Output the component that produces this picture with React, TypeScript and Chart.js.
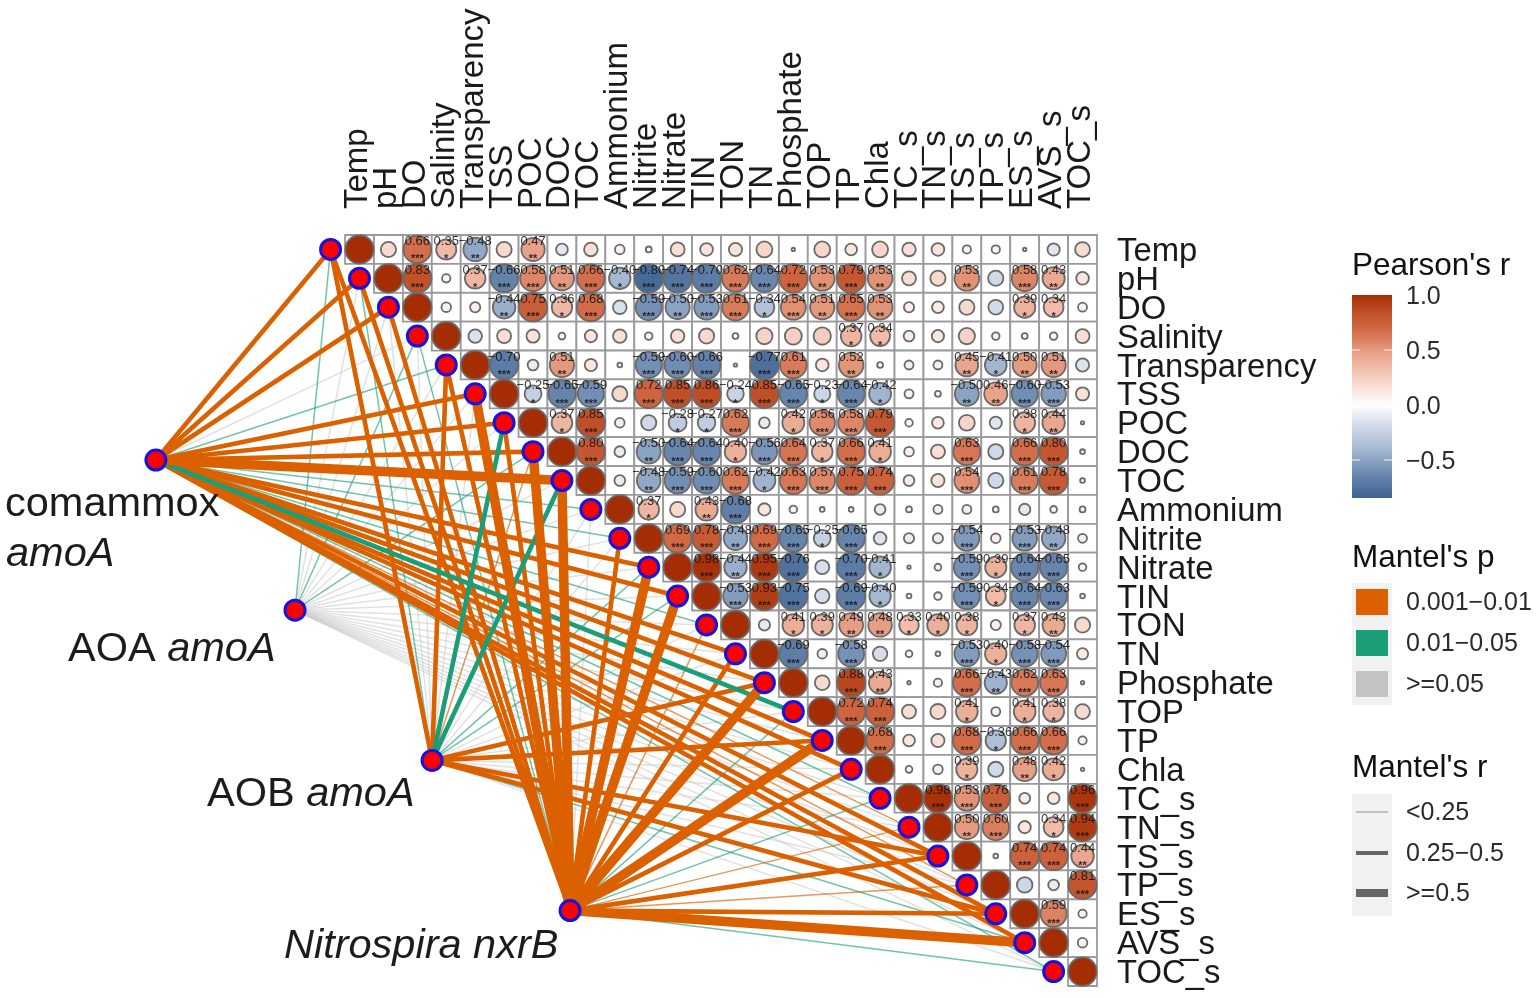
import React, { useEffect, useRef } from "react";
import { Chart, registerables } from "chart.js";
Chart.register(...registerables);

const variables = ["Temp","pH","DO","Salinity","Transparency","TSS","POC","DOC","TOC","Ammonium","Nitrite","Nitrate","TIN","TON","TN","Phosphate","TOP","TP","Chla","TC_s","TN_s","TS_s","TP_s","ES_s","AVS_s","TOC_s"];

// Each row starts at its own diagonal cell; * marks significance stars.
const rowTemp = ["1","0.2","0.66***","0.35*","-0.48**","0.2","0.47**","-0.12","0.16","0.08","0.03","0.17","0.14","0.15","0.22","0.01","0.22","0.12","0.22","0.16","0.14","0.06","0.06","0.01","-0.13","0.19"];
const rowPH = ["1","0.83***","0.06","0.37*","-0.66***","0.58***","0.51**","0.66***","-0.40*","-0.80***","-0.74***","-0.70***","0.62***","-0.64***","0.72***","0.53**","0.79***","0.53**","0.17","0.2","0.53**","-0.2","0.58***","0.43**","0.14"];
const rowDO = ["1","0.08","0.09","-0.44**","0.75***","0.36*","0.68***","-0.16","-0.59***","-0.50**","-0.53***","0.61***","-0.34*","0.54***","0.51**","0.65***","0.53**","0.09","0.12","0.2","-0.19","0.39*","0.34*","0.07"];
const rowSalinity = ["1","-0.16","0.17","0.15","0.04","0.13","0.16","-0.05","0.16","0.2","0.03","0.23","0.25","0.26","0.37*","0.34*","0.1","0.13","0.23","0.05","0.03","0.05","0.17"];
const rowTransparency = ["1","-0.70***","-0.1","0.51**","0.13","0.02","-0.59***","-0.60***","-0.66***","0.01","-0.77***","0.61***","0.14","0.52**","0.03","-0.07","-0.07","0.45**","-0.41*","0.50**","0.51**","-0.15"];
const rowTSS = ["1","-0.25*","-0.65***","-0.59***","0.2","0.72***","0.85***","0.86***","-0.24*","0.85***","-0.65***","-0.23*","-0.64***","-0.42*","0.07","0.03","-0.50**","0.46**","-0.60***","-0.53***","0.15"];
const rowPOC = ["1","0.37*","0.85***","-0.08","-0.2","-0.28*","-0.27*","0.62***","-0.1","0.42*","0.56***","0.58***","0.79***","0.05","0.12","0.22","-0.13","0.38*","0.44**","0.01"];
const rowDOC = ["1","0.80***","-0.1","-0.50**","-0.64***","-0.64***","0.40*","-0.56***","0.64***","0.37*","0.66***","0.41*","0.08","0.17","0.63***","-0.2","0.66***","0.80***","0.02"];
const rowTOC = ["1","-0.1","-0.48**","-0.59***","-0.60***","0.62***","-0.42*","0.63***","0.57***","0.75***","0.74***","0.1","0.15","0.54***","-0.2","0.61***","0.78***","0.02"];
const rowAmmonium = ["1","0.37*","0.2","0.43**","-0.68***","0.13","-0.05","-0.02","0.02","-0.1","-0.03","-0.07","-0.07","-0.03","-0.11","-0.04","-0.03"];
const rowNitrite = ["1","0.69***","0.78***","-0.48**","0.69***","-0.65***","-0.25*","-0.65***","-0.14","-0.09","-0.09","-0.54***","0.08","-0.53***","-0.48**","-0.07"];
const rowNitrate = ["1","0.98***","-0.44**","0.95***","-0.76***","-0.17","-0.70***","-0.41*","0.01","-0.04","-0.59***","0.39*","-0.64***","-0.65***","-0.05"];
const rowTIN = ["1","-0.53***","0.93***","-0.75***","-0.18","-0.69***","-0.40*","0.02","-0.05","-0.59***","0.34*","-0.64***","-0.63***","-0.02"];
const rowTON = ["1","-0.11","0.41*","0.39*","0.49**","0.48**","0.33*","0.40*","0.38*","0.09","0.37*","0.43**","0.2"];
const rowTN = ["1","-0.69***","-0.08","-0.58***","-0.18","0.04","0.02","-0.53***","0.40*","-0.58***","-0.54***","0.11"];
const rowPhosphate = ["1","0.19","0.88***","0.43**","0.01","0.06","0.66***","-0.43**","0.62***","0.63***","0.01"];
const rowTOP = ["1","0.72***","0.74***","0.17","0.2","0.41*","-0.07","0.41*","0.38*","0.19"];
const rowTP = ["1","0.68***","0.12","0.15","0.68***","-0.36*","0.66***","0.66***","0.06"];
const rowChla = ["1","0.04","0.08","0.39*","-0.2","0.48**","0.42*","0.01"];
const rowTCs = ["1","0.98***","0.53***","0.76***","0.1","0.12","0.96***"];
const rowTNs = ["1","0.50**","0.60***","0.13","0.34*","0.94***"];
const rowTSs = ["1","0.02","0.74***","0.74***","0.44**"];
const rowTPs = ["1","-0.21","-0.10","0.81***"];
const rowESs = ["1","0.59***","0.06"];
const rowAVSs = ["1","0.08"];
const rowTOCs = ["1"];
const corrRows = [rowTemp,rowPH,rowDO,rowSalinity,rowTransparency,rowTSS,rowPOC,rowDOC,rowTOC,rowAmmonium,rowNitrite,rowNitrate,rowTIN,rowTON,rowTN,rowPhosphate,rowTOP,rowTP,rowChla,rowTCs,rowTNs,rowTSs,rowTPs,rowESs,rowAVSs,rowTOCs];

// Mantel links, one per variable: o = 0.001-0.01, g = 0.01-0.05, n = >=0.05; 0/1/2 = r class
const comammoxLinks = ["o1","o1","o1","n0","g0","o1","o1","o1","o2","g0","g0","o1","o1","g0","o1","o1","g1","o1","o1","g0","o0","o1","o0","o1","o1","g0"];
const aoaLinks = ["g0","n0","n0","g0","n0","n0","n0","g0","n0","n0","n0","n0","n0","n0","n0","n0","n0","n0","n0","n0","n0","n0","n0","n0","n0","n0"];
const aobLinks = ["o1","g0","n0","n0","o1","n0","g1","o0","g1","n0","n0","g0","g0","n0","n0","o1","n0","o1","n0","n0","n0","o1","n0","o1","g0","n0"];
const nitrospiraLinks = ["o1","o1","o1","g0","o1","o2","o1","o2","o2","n0","o1","o2","o2","o0","o1","o2","g0","o2","o1","g0","o0","o1","o0","o1","o2","g0"];

const geneNames = ["comammox","AOA","AOB","Nitrospira"];
const geneX = [-7.04,-2.23,2.51,7.28];
const geneY = [7.29,12.49,17.69,22.89];
const geneLinks = [comammoxLinks,aoaLinks,aobLinks,nitrospiraLinks];

const colorTicks = [1,0.5,0,-0.5];
const colorTickLabels = ["1.0","0.5","0.0","\u22120.5"];
const pLabels = ["0.001\u22120.01","0.01\u22120.05",">=0.05"];
const rLabels = ["<0.25","0.25\u22120.5",">=0.5"];

const posStops: [number,number[]][] = [[0,[255,255,255]],[0.25,[246,207,192]],[0.5,[229,155,128]],[0.66,[212,110,74]],[0.85,[192,78,38]],[1,[165,45,3]]];
const negStops: [number,number[]][] = [[0,[255,255,255]],[0.2,[208,217,231]],[0.4,[165,184,210]],[0.6,[112,141,179]],[0.8,[70,106,152]],[1,[42,74,117]]];
function pearsonColor(v: number) {
  const stops = v >= 0 ? posStops : negStops;
  const a = Math.abs(v);
  for (let i = 1; i < stops.length; i++) {
    if (a <= stops[i][0]) {
      const [t0,c0] = stops[i-1]; const [t1,c1] = stops[i];
      const t = (a-t0)/(t1-t0);
      return `rgb(${c0.map((c,k)=>Math.round(c+(c1[k]-c)*t)).join(",")})`;
    }
  }
  return "rgb(165,45,3)";
}

const FONT = '"Liberation Sans", Arial, sans-serif';
const lineColor: Record<string,string> = { o0:"rgba(218,96,0,0.65)", o1:"#DA6000", o2:"#DA6000", g0:"rgba(27,158,119,0.62)", g1:"#1B9E77", n0:"rgba(205,205,205,0.6)" };
const lineWidth = [1.5,4.6,9.5];
const lineOrder: Record<string,number> = { n0:9, g0:8, o0:7, o1:6, g1:5, o2:4 };

const overlay = {
  id: "overlay",
  afterDatasetsDraw(chart: any) {
    const { ctx, scales: { x, y } } = chart;
    ctx.save();
    ctx.textAlign = "center"; ctx.textBaseline = "middle";
    corrRows.forEach((row, i) => row.forEach((s, k) => {
      const stars = (s.match(/\*/g) || []).length;
      if (!stars) return;
      const v = parseFloat(s);
      const px = x.getPixelForValue(i+k), py = y.getPixelForValue(i);
      ctx.fillStyle = "rgba(15,15,15,0.85)";
      ctx.font = `13px ${FONT}`;
      ctx.fillText(v.toFixed(2).replace("-", "\u2212"), px, py - 8);
      ctx.font = `bold 11px ${FONT}`;
      ctx.fillStyle = "rgba(25,25,25,0.9)";
      ctx.fillText("*".repeat(stars), px, py + 10);
    }));
    ctx.fillStyle = "#1c1c1c"; ctx.textAlign = "left"; ctx.textBaseline = "alphabetic";
    const n = `41.5px ${FONT}`, it = `italic 41.5px ${FONT}`;
    ctx.font = n; ctx.fillText(geneNames[0], 5, 516);
    ctx.font = it; ctx.fillText("amoA", 6, 566);
    ctx.font = n; ctx.fillText("AOA ", 68, 661);
    let w = ctx.measureText("AOA ").width;
    ctx.font = it; ctx.fillText("amoA", 68+w, 661);
    ctx.font = n; ctx.fillText("AOB ", 207, 806);
    w = ctx.measureText("AOB ").width;
    ctx.font = it; ctx.fillText("amoA", 207+w, 806);
    ctx.font = it; ctx.fillText("Nitrospira nxrB", 284, 958);

    const lx = 1352, tx = 1406;
    ctx.fillStyle = "#111"; ctx.font = `31.5px ${FONT}`; ctx.textBaseline = "middle";
    ctx.fillText("Pearson's r", lx, 266);
    ctx.fillText("Mantel's p", lx, 558);
    ctx.fillText("Mantel's r", lx, 768);
    const valToY = (v: number) => 405 - v*110;
    const top = 295, bot = 498;
    const g = ctx.createLinearGradient(0, top, 0, bot);
    for (let k = 0; k <= 40; k++) {
      const f = k/40; const v = 1 - f*(bot-top)/110;
      g.addColorStop(f, pearsonColor(Math.max(v,-1)));
    }
    ctx.fillStyle = g; ctx.fillRect(lx, top, 40, bot-top);
    ctx.strokeStyle = "rgba(255,255,255,0.9)"; ctx.lineWidth = 1.2;
    ctx.font = `25px ${FONT}`;
    colorTicks.forEach((v,i) => {
      const py = valToY(v);
      if (v < 1) {
        ctx.beginPath(); ctx.moveTo(lx, py); ctx.lineTo(lx+8, py); ctx.moveTo(lx+32, py); ctx.lineTo(lx+40, py); ctx.stroke();
      }
      ctx.fillStyle = "#2b2b2b"; ctx.fillText(colorTickLabels[i], tx, py+2);
    });
    ctx.fillStyle = "#F2F2F2"; ctx.fillRect(lx, 583, 40, 122);
    const pColors = ["#DD6000","#1B9E77","#C4C4C4"]; const pY = [602,643,684];
    pLabels.forEach((s,i) => {
      ctx.fillStyle = pColors[i]; ctx.fillRect(lx+4, pY[i]-13, 32, 26);
      ctx.fillStyle = "#2b2b2b"; ctx.fillText(s, tx, pY[i]+1);
    });
    ctx.fillStyle = "#F2F2F2"; ctx.fillRect(lx, 794, 40, 122);
    const rY = [812,853,893]; const rW = [1.6,4,8]; const rC = ["#b5b5b5","#666","#666"];
    rLabels.forEach((s,i) => {
      ctx.fillStyle = rC[i]; ctx.fillRect(lx+4, rY[i]-rW[i]/2, 32, rW[i]);
      ctx.fillStyle = "#2b2b2b"; ctx.fillText(s, tx, rY[i]+1);
    });
    ctx.restore();
  },
};

export default function App() {
  const ref = useRef<HTMLCanvasElement>(null);
  useEffect(() => {
    const cells: any[] = [];
    corrRows.forEach((row,i) => row.forEach((s,k) => cells.push({ x:i+k, y:i, v:parseFloat(s) })));
    const links: any[] = [];
    geneLinks.forEach((arr,g) => arr.forEach((code,i) => {
      links.push({
        type:"scatter", showLine:true, pointRadius:0, pointHoverRadius:0, clip:false,
        data:[{x:geneX[g],y:geneY[g]},{x:i-1,y:i}],
        borderColor:lineColor[code], borderWidth:lineWidth[+code[1]], borderCapStyle:"butt",
        order:10+lineOrder[code], label:`${geneNames[g]}-${variables[i]}`,
      });
    }));
    const nodes = [
      ...variables.map((_,i)=>({x:i-1,y:i})),
      ...geneX.map((gx,i)=>({x:gx,y:geneY[i]})),
    ];
    const chart = new Chart(ref.current!, {
      type:"scatter",
      data:{ datasets:[
        { label:"nodes", data:nodes, order:0, clip:false, pointRadius:10, pointBackgroundColor:"#FF0000", pointBorderColor:"#1414E0", pointBorderWidth:3 },
        { label:"r", data:cells, order:1, clip:false, pointRadius:(c:any)=>c.raw?Math.min(14.2,Math.sqrt(Math.abs(c.raw.v))*17):0,
          pointBackgroundColor:(c:any)=>c.raw?pearsonColor(c.raw.v):"#fff", pointBorderColor:"#6a6a6a", pointBorderWidth:1.8 },
        { label:"cells", data:cells, order:2, clip:false, pointStyle:"rect", pointRadius:20.45, pointBackgroundColor:"#fff", pointBorderColor:"#9a9a9a", pointBorderWidth:1.8 },
        ...links,
      ] } as any,
      options:{
        animation:false, responsive:false, devicePixelRatio:1,
        layout:{ padding:0, autoPadding:false },
        plugins:{ legend:{display:false}, tooltip:{enabled:false} },
        events:[],
        scales:{
          x:{ type:"linear", position:"top", min:-12.43, max:25.5, grid:{display:false}, border:{display:false},
            afterBuildTicks:(s:any)=>{ s.ticks = variables.map((_,i)=>({value:i})); },
            afterFit:(s:any)=>{ s.height = 235; },
            ticks:{ autoSkip:false, minRotation:90, maxRotation:90, padding:18, labelOffset:38, color:"#1a1a1a",
              font:{family:FONT,size:33}, callback:(v:any)=>variables[v] ?? "" } },
          y:{ type:"linear", position:"right", reverse:true, min:-0.5, max:25.5, grid:{display:false}, border:{display:false},
            afterBuildTicks:(s:any)=>{ s.ticks = variables.map((_,i)=>({value:i})); },
            afterFit:(s:any)=>{ s.width = 439; s.paddingBottom = 12; s.paddingTop = 0; },
            ticks:{ autoSkip:false, padding:12, labelOffset:2.5, color:"#1a1a1a",
              font:{family:FONT,size:32.8}, callback:(v:any)=>variables[v] ?? "" } },
        },
      } as any,
      plugins:[overlay],
    });
    return () => chart.destroy();
  }, []);
  return <canvas ref={ref} width={1536} height={998} style={{position:"absolute",left:0,top:0,display:"block"}} />;
}
